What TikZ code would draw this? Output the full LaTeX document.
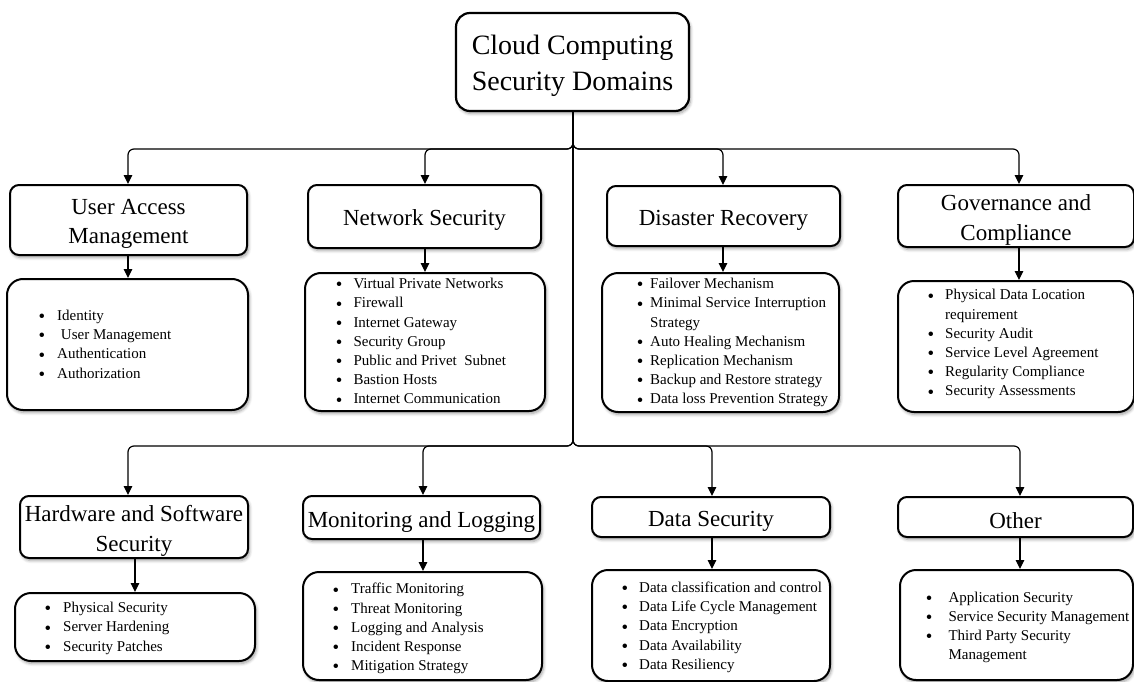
\documentclass[tikz,border=0pt]{standalone}
\usepackage{fontspec}
\setmainfont{Liberation Serif}
\usetikzlibrary{arrows.meta,shadows.blur,calc}

% a box given by its left, top, right and bottom edges
\newcommand\panel[6]{%
  \node[#1, minimum width={(#5-#3)*1pt}, minimum height={(#6-#4)*1pt}]
    (#2) at ({(#3+#5)/2},{(#4+#6)/2}) {};}
% a titled box: the title sits slightly below the box centre
\newcommand\titled[8]{%
  \panel{#1}{#3}{#4}{#5}{#6}{#7}%
  \node[#2] (#3T) at ($(#3)+(0,4)$) {#8};}
% one bulleted entry; #1 is the gap from bullet to text
\newcommand\dotmark{\raisebox{-2.2pt}{\scalebox{1.25}{\textbullet}}}
\newcommand\li[2]{\makebox[#1][l]{\dotmark}\strut#2}
% a wrapped continuation line
\newcommand\cont[2]{\hspace*{#1}\strut#2}

\tikzset{
  soft/.style={blur shadow={shadow xshift=1.5pt, shadow yshift=-2.5pt,
      shadow blur radius=3pt, shadow blur steps=6, shadow opacity=38}},
  rootbox/.style={draw, line width=2.2pt, rounded corners=14pt, fill=white,
      soft, inner sep=0pt},
  roottext/.style={inner sep=0pt, align=center, font=\fontsize{28}{36.5}\selectfont},
  headbox/.style={draw, line width=2pt, rounded corners=9pt, fill=white,
      soft, inner sep=0pt},
  headtext/.style={inner sep=0pt, align=center, font=\fontsize{23}{29.5}\selectfont},
  listbox/.style={draw, line width=2pt, rounded corners=16pt, fill=white,
      soft, inner sep=0pt},
  listtext/.style={anchor=west, inner sep=0pt, align=left,
      font=\fontsize{15}{19.2}\selectfont},
  conn/.style={line width=1.2pt, rounded corners=6pt,
      -{Triangle[length=9pt,width=8.5pt]}},
}

\begin{document}
\begin{tikzpicture}[x=1pt, y=-1pt]
\useasboundingbox (0,0) rectangle (1134,682);

% root
\titled{rootbox}{roottext}{root}{456}{13}{689}{111}{Cloud Computing\\Security Domains}

% first row of domains
\titled{headbox}{headtext}{uam}{10}{185}{247}{255}{User Access\\Management}
\titled{headbox}{headtext}{ns}{308}{185}{541}{248}{Network Security}
\titled{headbox}{headtext}{dr}{607}{186}{840}{246}{Disaster Recovery}
\titled{headbox}{headtext}{gc}{898}{185}{1134}{247}{Governance and\\Compliance}

\panel{listbox}{uamL}{7}{279}{248}{410}
\panel{listbox}{nsL}{305}{273}{545}{411}
\panel{listbox}{drL}{602}{273}{839}{412}
\panel{listbox}{gcL}{898}{281}{1134}{412}

\node[listtext] (uamT) at (38.4,345.5) {%
  \li{18.6pt}{Identity}\\
  \li{18.6pt}{\ User Management}\\
  \li{18.6pt}{Authentication}\\
  \li{18.6pt}{Authorization}};
\node[listtext] (nsT) at (335.7,342.5) {%
  \li{17.6pt}{Virtual Private Networks}\\
  \li{17.6pt}{Firewall}\\
  \li{17.6pt}{Internet Gateway}\\
  \li{17.6pt}{Security Group}\\
  \li{17.6pt}{Public and Privet~ Subnet}\\
  \li{17.6pt}{Bastion Hosts}\\
  \li{17.6pt}{Internet Communication}};
\node[listtext] (drT) at (636.7,342.5) {%
  \li{13.3pt}{Failover Mechanism}\\
  \li{13.3pt}{Minimal Service Interruption}\\
  \cont{13.3pt}{Strategy}\\
  \li{13.3pt}{Auto Healing Mechanism}\\
  \li{13.3pt}{Replication Mechanism}\\
  \li{13.3pt}{Backup and Restore strategy}\\
  \li{13.3pt}{Data loss Prevention Strategy}};
\node[listtext] (gcT) at (927.4,344) {%
  \li{17.6pt}{Physical Data Location}\\
  \cont{17.6pt}{requirement}\\
  \li{17.6pt}{Security Audit}\\
  \li{17.6pt}{Service Level Agreement}\\
  \li{17.6pt}{Regularity Compliance}\\
  \li{17.6pt}{Security Assessments}};

% second row of domains
\titled{headbox}{headtext}{hss}{20}{496}{248}{558}{Hardware and Software\\Security}
\titled{headbox}{headtext}{ml}{303}{496}{540}{539}{Monitoring and Logging}
\titled{headbox}{headtext}{ds}{592}{497}{830}{537}{Data Security}
\titled{headbox}{headtext}{oth}{898}{497}{1133}{537}{Other}

\panel{listbox}{hssL}{15}{593}{255}{661}
\panel{listbox}{mlL}{303}{572}{542}{680}
\panel{listbox}{dsL}{592}{570}{830}{681}
\panel{listbox}{othL}{900}{570}{1133}{680}

\node[listtext] (hssT) at (44.4,628) {%
  \li{18.6pt}{Physical Security}\\
  \li{18.6pt}{Server Hardening}\\
  \li{18.6pt}{Security Patches}};
\node[listtext] (mlT) at (332.4,628.5) {%
  \li{18.6pt}{Traffic Monitoring}\\
  \li{18.6pt}{Threat Monitoring}\\
  \li{18.6pt}{Logging and Analysis}\\
  \li{18.6pt}{Incident Response}\\
  \li{18.6pt}{Mitigation Strategy}};
\node[listtext] (dsT) at (621.4,627) {%
  \li{17.6pt}{Data classification and control}\\
  \li{17.6pt}{Data Life Cycle Management}\\
  \li{17.6pt}{Data Encryption}\\
  \li{17.6pt}{Data Availability}\\
  \li{17.6pt}{Data Resiliency}};
\node[listtext] (othT) at (925.7,627) {%
  \li{22.6pt}{Application Security}\\
  \li{22.6pt}{Service Security Management}\\
  \li{22.6pt}{Third Party Security}\\
  \cont{22.6pt}{Management}};

% trunk and the two buses
\coordinate (busA) at (573,149);
\coordinate (busB) at (573,446);

\foreach \n/\x in {uam/128, ns/425, dr/723, gc/1019}
  \draw[conn] (root.south -| busA) -- (busA) -- (\x,149) -- (\x,0 |- \n.north);
\foreach \n/\x in {hss/128, ml/423, ds/712, oth/1020}
  \draw[conn] (root.south -| busB) -- (busB) -- (\x,446) -- (\x,0 |- \n.north);

% from each domain to its list
\foreach \n/\x in {uam/128, ns/425, dr/723, gc/1019, hss/135, ml/423, ds/712, oth/1020}
  \draw[conn] (\x,0 |- \n.south) -- (\x,0 |- \n L.north);

\end{tikzpicture}
\end{document}
